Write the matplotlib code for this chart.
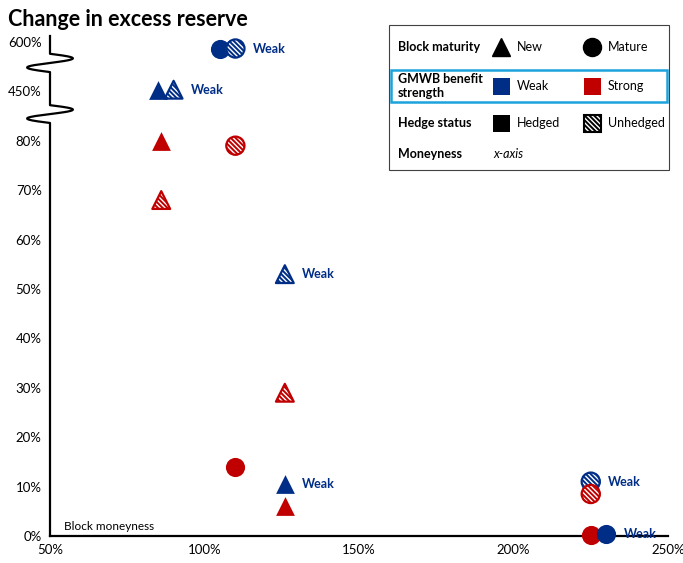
import numpy as np
import matplotlib
matplotlib.use('Agg')
import matplotlib.pyplot as plt
from matplotlib.patches import Rectangle
from matplotlib.transforms import blended_transform_factory

plt.rcParams['font.family'] = ['Lato', 'DejaVu Sans']
plt.rcParams['hatch.color'] = 'white'
plt.rcParams['hatch.linewidth'] = 1.0

# ---- data ----
maturity = ['Mature', 'Mature', 'New', 'New', 'New', 'Mature', 'New', 'New',
            'New', 'Mature', 'New', 'New', 'Mature', 'Mature', 'Mature', 'Mature']
strength = ['Weak', 'Weak', 'Weak', 'Weak', 'Strong', 'Strong', 'Strong', 'Weak',
            'Strong', 'Strong', 'Weak', 'Strong', 'Weak', 'Strong', 'Strong', 'Weak']
hedged = [True, False, True, False, True, False, False, False,
          False, True, True, True, False, False, True, True]
moneyness = [105, 110, 85, 90, 86, 110, 86, 126, 126, 110, 126, 126, 225, 225, 225, 230]
change = [580, 580, 455, 455, 80.5, 79, 68, 53, 29, 14, 10.5, 6, 11, 8.5, 0.3, 0.5]
show_label = [False, True, False, True, False, False, False, True,
              False, False, True, False, True, False, False, True]

ytick_values = [0, 10, 20, 30, 40, 50, 60, 70, 80, 450, 600]
xtick_values = [50, 100, 150, 200, 250]

legend_rows = ['Block maturity', 'GMWB benefit\nstrength', 'Hedge status', 'Moneyness']
maturity_items = ['New', 'Mature']
strength_items = ['Weak', 'Strong']
hedge_items = ['Hedged', 'Unhedged']

colors = {'Weak': '#002D86', 'Strong': '#C00000'}
HATCH = '\\' * 7

# broken y-axis: each tick gets one equal step
ypos = np.arange(len(ytick_values))
def to_pos(v):
    return np.interp(v, ytick_values, ypos)

W, H = 683, 563
fig = plt.figure(figsize=(W / 100, H / 100), dpi=100)
ax = fig.add_axes([50 / W, 27 / H, 618 / W, 500 / H])
ax.set_xlim(50, 250)
ax.set_ylim(0, 10.12)

for sp in ['top', 'right', 'left']:
    ax.spines[sp].set_visible(False)
ax.spines['bottom'].set_linewidth(1.6)
ax.set_xticks(xtick_values)
ax.set_xticklabels(['%d%%' % v for v in xtick_values])
ax.set_yticks(ypos)
ax.set_yticklabels(['%d%%' % v for v in ytick_values])
ax.tick_params(length=0, labelsize=9.5)
ax.tick_params(axis='x', pad=6)
ax.tick_params(axis='y', pad=6)

# left axis line with two wavy breaks
tr = blended_transform_factory(ax.transAxes, ax.transData)
breaks = [(9.76, 9.39), (8.72, 8.36)]
amp = 0.037
xs, ys = [0.0], [10.12]
for top, bot in breaks:
    t = np.linspace(0, 1, 80)
    xs += list(amp * np.sin(2 * np.pi * t))
    ys += list(top - (top - bot) * t)
xs.append(0.0)
ys.append(0.0)
ax.plot(xs, ys, color='black', lw=1.6, transform=tr, clip_on=False, zorder=3)

# markers
for i, (m, s, h, x, y, lab) in enumerate(zip(maturity, strength, hedged,
                                             moneyness, change, show_label)):
    c = colors[s]
    mk = '^' if m == 'New' else 'o'
    size = 13.5 ** 2 if m == 'New' else 13.8 ** 2
    yy = to_pos(y)
    z = 4 + i * 0.1
    if h:
        ax.scatter([x], [yy], s=size, marker=mk, color=c, linewidths=0,
                   clip_on=False, zorder=z)
    else:
        ax.scatter([x], [yy], s=size, marker=mk, facecolor=c, edgecolor='white',
                   linewidths=0, hatch=HATCH, clip_on=False, zorder=z)
        ax.scatter([x], [yy], s=size * 0.9, marker=mk, facecolor='none', edgecolor=c,
                   linewidths=1.6, clip_on=False, zorder=z + 0.05)
    if lab:
        ax.annotate(s, (x, yy), xytext=(12.5, 0), textcoords='offset points',
                    va='center', ha='left', color=colors['Weak'],
                    fontsize=9, fontweight='bold', zorder=10)

ax.text(0.023, 0.008, 'Block moneyness', transform=ax.transAxes,
        fontsize=8.5, ha='left', va='bottom')

fig.text(8 / W, 1 - 20 / H, 'Change in excess reserve', fontsize=15.5,
         fontweight='bold', ha='left', va='center')

# legend drawn in pixel coordinates
lax = fig.add_axes([0, 0, 1, 1], zorder=5)
lax.set_xlim(0, W)
lax.set_ylim(H, 0)
lax.axis('off')
lax.add_patch(Rectangle((389, 25), 280, 145, facecolor='white',
                        edgecolor='#404040', lw=0.8))
lax.add_patch(Rectangle((391, 70), 276, 32, facecolor='none',
                        edgecolor='#1CA3DC', lw=1.8))

row_y = [47, 86, 123, 154]
for ry, txt in zip(row_y, legend_rows):
    lax.text(398, ry, txt, fontsize=9, fontweight='bold', ha='left', va='center',
             linespacing=1.15)

x_sym = [501, 592]
x_txt = [517, 608]
# maturity
lax.plot(x_sym[0], row_y[0], marker='^', ms=13.5, color='black', lw=0)
lax.plot(x_sym[1], row_y[0], marker='o', ms=13, color='black', lw=0)
for xt, t in zip(x_txt, maturity_items):
    lax.text(xt, row_y[0], t, fontsize=9, ha='left', va='center')
# strength
for xsq, xt, t in zip(x_sym, x_txt, strength_items):
    lax.add_patch(Rectangle((xsq - 8.5, row_y[1] - 8.5), 17, 17,
                            facecolor=colors[t], edgecolor='none'))
    lax.text(xt, row_y[1], t, fontsize=9, ha='left', va='center')
# hedge
lax.add_patch(Rectangle((x_sym[0] - 8.5, row_y[2] - 8.5), 17, 17,
                        facecolor='black', edgecolor='none'))
lax.add_patch(Rectangle((x_sym[1] - 8.5, row_y[2] - 8.5), 17, 17,
                        facecolor='black', edgecolor='white', lw=0, hatch=HATCH))
lax.add_patch(Rectangle((x_sym[1] - 8.5, row_y[2] - 8.5), 17, 17,
                        facecolor='none', edgecolor='black', lw=1.5))
for xt, t in zip(x_txt, hedge_items):
    lax.text(xt, row_y[2], t, fontsize=9, ha='left', va='center')
lax.text(493, row_y[3], 'x-axis', fontsize=9, style='italic', ha='left', va='center')

fig.savefig('out.png', dpi=100)
